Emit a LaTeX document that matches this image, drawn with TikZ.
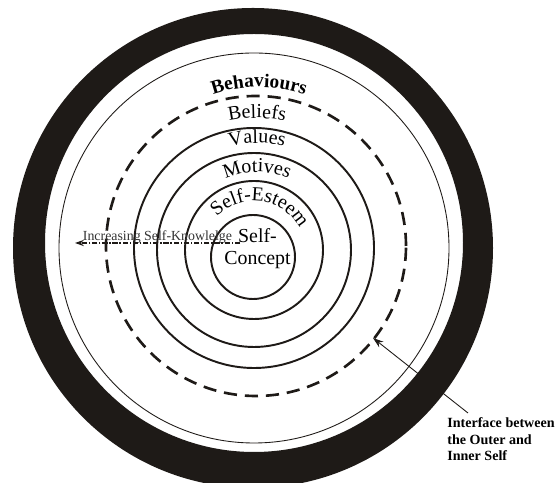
\documentclass[tikz,border=0pt]{standalone}
\usepackage{fontspec}
\setmainfont{Liberation Serif}
\usepackage{tikz}
\usetikzlibrary{arrows.meta, positioning, decorations.text}
\definecolor{ringblack}{HTML}{1E1A17}
\definecolor{knowgray}{HTML}{333333}
\newcommand{\ringfont}{\fontsize{11.3}{12.5}\selectfont}
\newcommand{\behavefont}{\fontsize{11}{12}\selectfont\bfseries}
\newcommand{\knowfont}{\fontsize{7.9}{9}\selectfont}
\newcommand{\ifacefont}{\fontsize{8}{9.6}\selectfont\bfseries}

\begin{document}
\begin{tikzpicture}[
  x=0.02cm, y=0.02cm,
  layer/.style={draw=ringblack, line width=1.1pt},
  thinring/.style={draw=ringblack, line width=0.5pt},
  interface/.style={draw=ringblack, line width=1.5pt, dash pattern=on 7.5pt off 4.5pt},
  ringtext/.style={decorate, decoration={text along path, text align=center, text={#1}}},
  knows/.style={-{Stealth[length=5pt,width=3.5pt]}, line width=0.8pt, densely dashdotted, color=ringblack},
  pointer/.style={-{Stealth[length=6pt,width=4pt]}, line width=0.5pt, color=ringblack},
]
\useasboundingbox (0,0) rectangle (555,483);
\clip (0,0) rectangle (555,483);

% outer self
\fill[ringblack, even odd rule] (253,235) circle[radius=240] (254,240) circle[radius=209];
\draw[thinring] (254,235) circle[radius=195];
\draw[interface] (256,237) circle[radius=150];

% inner layers
\draw[layer] (254,235) circle[radius=120];
\draw[layer] (254,233) circle[radius=97];
\draw[layer] (254,233) circle[radius=69];
\draw[layer] (253,226) circle[radius=42];

\coordinate (core) at (257,235);
\path[ringtext={|\behavefont|Behaviours}] (259,256) ++(140:140) arc[start angle=140, end angle=40, radius=140];
\path[ringtext={|\ringfont|Beliefs}] (core) ++(140:130) arc[start angle=140, end angle=40, radius=130];
\path[ringtext={|\ringfont|Values}] (core) ++(140:105) arc[start angle=140, end angle=40, radius=105];
\path[ringtext={|\ringfont|Motives}] (core) ++(145:76) arc[start angle=145, end angle=35, radius=76];
\path[ringtext={|\ringfont|Self-Esteem}] (254,230) ++(152:52) arc[start angle=152, end angle=12, radius=52];

\node[font=\ringfont, align=center, inner sep=0pt] (concept) at (257.5,234) {Self-\\Concept};

\node[font=\knowfont, text=knowgray, anchor=base, inner sep=0pt] (knowlabel) at (157.5,242) {Increasing Self-Knowlelge};
\coordinate (knowstart) at (240,240);
\coordinate (knowend) at (75,240);
\draw[knows] (knowstart) -- (knowend);

\node[font=\ifacefont, align=left, anchor=north west, inner sep=0pt] (iface) at (447,66) {Interface between\\the Outer and\\Inner Self};
\coordinate (ifacetip) at (373,145);
\draw[pointer] ([xshift=0.42cm, yshift=0.08cm]iface.north west) -- (ifacetip);

\end{tikzpicture}
\end{document}
